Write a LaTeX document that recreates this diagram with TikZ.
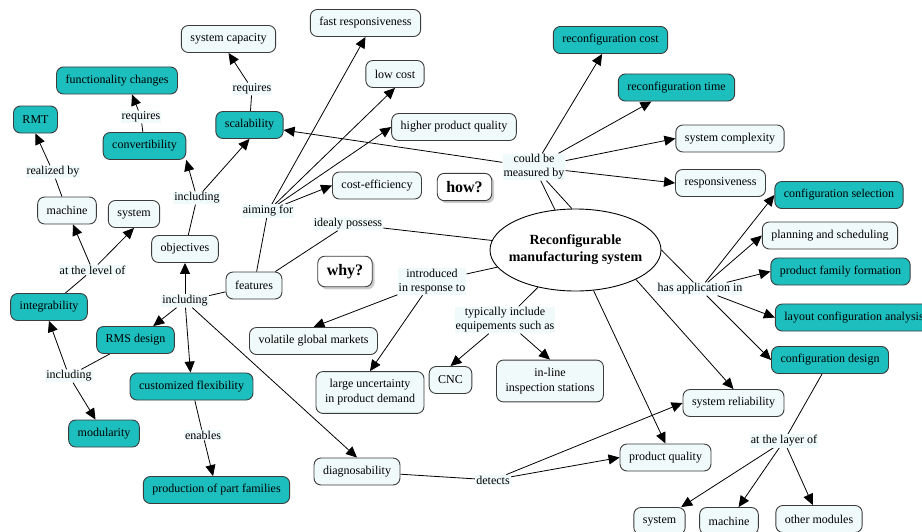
\documentclass[tikz,border=0pt]{standalone}
\usepackage{fontspec}
\setmainfont{Liberation Serif}
\usetikzlibrary{arrows.meta,shapes.geometric,shadows,backgrounds}
\definecolor{keyteal}{RGB}{28,190,190}
\definecolor{paleblue}{RGB}{240,250,250}
\definecolor{edgegray}{RGB}{60,60,60}
\begin{document}
\begin{tikzpicture}[x=1pt,y=1pt,
  concept/.style={draw=edgegray,line width=0.9pt,rounded corners=7pt,fill=paleblue,inner xsep=9pt,inner ysep=8pt,minimum height=27pt,align=center,font=\fontsize{12}{15}\selectfont},
  keyconcept/.style={concept,fill=keyteal},
  question/.style={concept,fill=white,font=\bfseries\fontsize{16}{19}\selectfont,drop shadow={shadow xshift=2.5pt,shadow yshift=-2.5pt,fill=black!40}},
  phrase/.style={fill=paleblue,inner sep=1pt,align=center,font=\fontsize{12}{14}\selectfont},
  link/.style={black,line width=0.8pt},
  linkarrow/.style={link,-{Triangle[length=11pt,width=10pt]}}]
\useasboundingbox (0,0) rectangle (922,-531);
\node [draw,ellipse,line width=0.9pt,fill=white,minimum width=171pt,minimum height=82pt,inner sep=0pt] (rms) at (575.5,-250) {};
\node [font=\bfseries\fontsize{14}{17}\selectfont,align=center] (rmstext) at (rms) {Reconfigurable\\manufacturing system};
\node [concept] (syscap) at (228.5,-39) {system capacity};
\node [concept] (fastresp) at (365.5,-23) {fast responsiveness};
\node [concept] (lowcost) at (395,-74) {low cost};
\node [concept] (hpq) at (454,-127) {higher product quality};
\node [keyconcept] (reccost) at (610.5,-40) {reconfiguration cost};
\node [keyconcept] (rectime) at (676.5,-87.5) {reconfiguration time};
\node [concept] (syscomplex) at (730,-138.5) {system complexity};
\node [concept] (resp) at (720.5,-183) {responsiveness};
\node [keyconcept] (funcchg) at (117,-80.5) {functionality changes};
\node [keyconcept] (rmt) at (35.5,-119.5) {RMT};
\node [keyconcept] (convert) at (144.5,-146) {convertibility};
\node [keyconcept] (scal) at (249.5,-125) {scalability};
\node [concept] (machine) at (67,-210.5) {machine};
\node [concept] (system) at (134,-214) {system};
\node [concept] (objectives) at (185,-249) {objectives};
\node [concept] (features) at (254,-285.5) {features};
\node [keyconcept] (integ) at (49,-307) {integrability};
\node [concept] (costeff) at (377,-185.5) {cost-efficiency};
\node [question] (how) at (464.5,-187) {how?};
\node [question] (why) at (345,-271.5) {why?};
\node [keyconcept] (confsel) at (839,-195) {configuration selection};
\node [concept] (planning) at (830,-235.5) {planning and scheduling};
\node [keyconcept] (pff) at (840.5,-271.5) {product family formation};
\node [keyconcept] (layout) at (854,-317.5) {layout configuration analysis};
\node [keyconcept] (confdesign) at (830,-360) {configuration design};
\node [concept] (sysrel) at (733.5,-403) {system reliability};
\node [concept] (pq) at (665.5,-457.5) {product quality};
\node [concept] (cdsystem) at (659.5,-521) {system};
\node [concept] (cdmachine) at (729,-521) {machine};
\node [concept] (othermod) at (819,-519) {other modules};
\node [concept] (cnc) at (450.5,-380) {CNC};
\node [concept] (inline) at (550,-381) {in-line\\inspection stations};
\node [concept] (uncertainty) at (370,-392.5) {large uncertainty\\in product demand};
\node [concept] (volatile) at (313.5,-341) {volatile global markets};
\node [concept] (diag) at (357,-471.5) {diagnosability};
\node [keyconcept] (rmsdesign) at (135.5,-340) {RMS design};
\node [keyconcept] (custflex) at (191.5,-386.5) {customized flexibility};
\node [keyconcept] (modular) at (104,-433.5) {modularity};
\node [keyconcept] (partfam) at (216.5,-490) {production of part families};
\node [phrase] (lreqscal) at (252,-89) {requires};
\node [phrase] (lreqconv) at (141,-117) {requires};
\node [phrase] (lreal) at (53,-172) {realized by};
\node [phrase] (llevel) at (92.5,-270) {at the level of};
\node [phrase] (linclobj) at (197,-198) {including};
\node [phrase] (linclfeat) at (185,-301) {including};
\node [phrase] (linclrms) at (69,-376) {including};
\node [phrase] (lenable) at (203,-435) {enables};
\node [phrase] (laim) at (268,-211) {aiming for};
\node [phrase] (lposs) at (348,-224) {idealy possess};
\node [phrase] (lmeas) at (534,-167) {could be\\measured by};
\node [phrase] (lintro) at (432,-281.5) {introduced\\in response to};
\node [phrase] (lequip) at (505,-320) {typically include\\equipements such as};
\node [phrase] (lapp) at (700,-289) {has application in};
\node [phrase] (ldetect) at (493,-480) {detects};
\node [phrase] (llayer) at (784,-441) {at the layer of};
\begin{scope}[on background layer]
\draw [link] (scal) -- (lreqscal);
\draw [linkarrow] (lreqscal) -- (syscap.south);
\draw [link] (convert) -- (lreqconv);
\draw [linkarrow] (lreqconv) -- ([xshift=15pt]funcchg.south);
\draw [link] (machine) -- (lreal);
\draw [linkarrow] (lreal) -- (rmt.south);
\draw [link] (integ) -- (llevel);
\draw [linkarrow] (llevel) -- (machine);
\draw [linkarrow] (llevel) -- (system.south);
\draw [link] (objectives) -- (linclobj);
\draw [linkarrow] (linclobj) -- (convert.south east);
\draw [linkarrow] (linclobj) -- (scal.south);
\draw [link] (features) -- (linclfeat);
\draw [linkarrow] (linclfeat) -- (objectives);
\draw [linkarrow] (linclfeat) -- (rmsdesign);
\draw [linkarrow] (linclfeat) -- (custflex);
\draw [linkarrow] (linclfeat) -- (diag.north);
\draw [link] (rmsdesign) -- (linclrms);
\draw [linkarrow] (linclrms) -- (modular);
\draw [linkarrow] (linclrms) -- (integ.south);
\draw [link] (custflex) -- (lenable);
\draw [linkarrow] (lenable) -- (partfam);
\draw [link] (features) -- (laim);
\draw [linkarrow] (laim) -- (fastresp.south);
\draw [linkarrow] (laim) -- (lowcost.south);
\draw [linkarrow] (laim) -- (hpq.west);
\draw [linkarrow] (laim) -- (costeff.west);
\draw [link] (rms) -- (lposs);
\draw [link] (lposs) -- (features);
\draw [link] (rms.117) -- (lmeas);
\draw [link] (rms.95) -- (lmeas);
\draw [linkarrow] (lmeas) -- (scal);
\draw [linkarrow] (lmeas) -- (reccost);
\draw [linkarrow] (lmeas) -- (rectime);
\draw [linkarrow] (lmeas) -- (syscomplex.west);
\draw [linkarrow] (lmeas) -- (resp.west);
\draw [link] (rms) -- (lintro);
\draw [linkarrow] (lintro) -- (volatile.north);
\draw [linkarrow] (lintro) -- (uncertainty.north);
\draw [link] (rms) -- (lequip);
\draw [linkarrow] (lequip) -- (cnc.north);
\draw [linkarrow] (lequip) -- (inline.north);
\draw [link] (rms.east) -- (lapp);
\draw [linkarrow] (lapp) -- (confsel.west);
\draw [linkarrow] (lapp) -- (planning.west);
\draw [linkarrow] (lapp) -- (pff.west);
\draw [linkarrow] (lapp) -- (layout.west);
\draw [linkarrow] (lapp) -- (confdesign.west);
\draw [linkarrow] (rms.-26) -- (sysrel.north);
\draw [linkarrow] (rms.-66) -- (pq.north);
\draw [link] (diag) -- (ldetect);
\draw [linkarrow] (ldetect) -- (sysrel.west);
\draw [linkarrow] (ldetect) -- (pq.west);
\draw [link] (confdesign) -- (llayer);
\draw [linkarrow] (llayer) -- (cdsystem);
\draw [linkarrow] (llayer) -- (cdmachine);
\draw [linkarrow] (llayer) -- (othermod);
\end{scope}
\end{tikzpicture}
\end{document}
